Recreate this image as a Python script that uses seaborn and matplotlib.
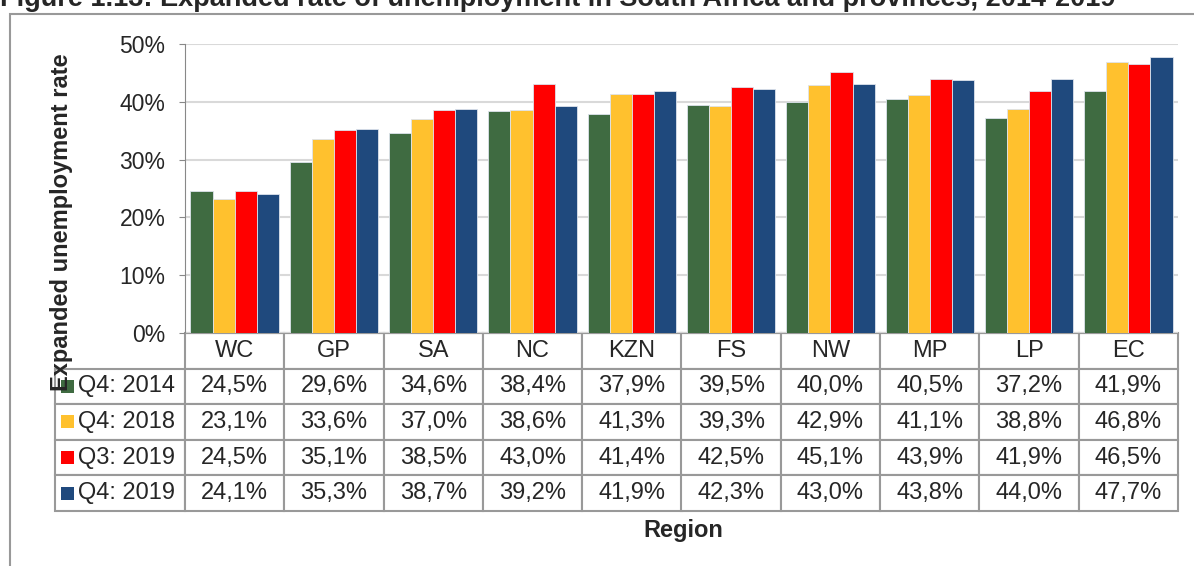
import numpy as np
import pandas as pd
import seaborn as sns
import matplotlib.pyplot as plt
from matplotlib.patches import Rectangle

regions = ['WC', 'GP', 'SA', 'NC', 'KZN', 'FS', 'NW', 'MP', 'LP', 'EC']
periods = ['Q4: 2014', 'Q4: 2018', 'Q3: 2019', 'Q4: 2019']
q4_2014 = [24.5, 29.6, 34.6, 38.4, 37.9, 39.5, 40.0, 40.5, 37.2, 41.9]
q4_2018 = [23.1, 33.6, 37.0, 38.6, 41.3, 39.3, 42.9, 41.1, 38.8, 46.8]
q3_2019 = [24.5, 35.1, 38.5, 43.0, 41.4, 42.5, 45.1, 43.9, 41.9, 46.5]
q4_2019 = [24.1, 35.3, 38.7, 39.2, 41.9, 42.3, 43.0, 43.8, 44.0, 47.7]
colors = ['#3F6B41', '#FFC12E', '#FF0000', '#1F497D']

series = [q4_2014, q4_2018, q3_2019, q4_2019]
df = pd.DataFrame({
    'Region': regions * 4,
    'Period': np.repeat(periods, len(regions)),
    'Rate': np.concatenate(series),
})

sns.set_style('white')
plt.rcParams['font.family'] = ['Liberation Sans', 'DejaVu Sans']

fig = plt.figure(figsize=(11.94, 5.66), dpi=100)
ax = fig.add_axes([185 / 1194, 1 - 333 / 566, 993 / 1194, 289 / 566])

sns.barplot(data=df, x='Region', y='Rate', hue='Period', order=regions,
            hue_order=periods, palette=colors, saturation=1, width=0.89, gap=0,
            edgecolor='#dde3ec', linewidth=0.6, legend=False, ax=ax, zorder=3)

ax.set_ylim(0, 50)
ax.set_xlim(-0.5, len(regions) - 0.5)
ax.set_yticks(range(0, 51, 10))
ax.set_yticklabels([f'{v}%' for v in range(0, 51, 10)], fontsize=16.5)
ax.tick_params(axis='y', left=True, length=4, color='#888888', pad=10)
ax.set_xticks([])
ax.set_xlabel('')
ax.set_ylabel('')
ax.grid(axis='y', color='#d9d9d9', linewidth=1.5, zorder=0)
for s in ['top', 'right']:
    ax.spines[s].set_visible(False)
ax.spines['left'].set_color('#888888')
ax.spines['bottom'].set_color('#999999')

# data table below the chart
cell_text = [['   ' + p] + [f'{v:.1f}%'.replace('.', ',') for v in vals]
             for p, vals in zip(periods, series)]
col_labels = [''] + regions
w0 = 130 / 993
table = ax.table(cellText=cell_text, colLabels=col_labels,
                 colWidths=[w0] + [(1.0) / len(regions)] * len(regions),
                 cellLoc='center', bbox=[-w0, -178 / 289, 1 + w0, 178 / 289])
table.auto_set_font_size(False)
table.set_fontsize(17)
for (r, c), cell in table.get_celld().items():
    cell.set_edgecolor('#999999')
    cell.set_linewidth(1.5)
    if c == 0:
        cell.get_text().set_ha('left')
        cell.PAD = 0.02
    if r == 0 and c == 0:
        cell.visible_edges = ''
        cell.set_facecolor('none')

row_h = 178 / 289 / 5
for i, col in enumerate(colors):
    yc = -row_h * (i + 1.5)
    ax.add_patch(Rectangle((-w0 + 0.006, yc - 0.022), 0.013, 0.045,
                           transform=ax.transAxes, facecolor=col,
                           edgecolor='none', clip_on=False, zorder=5))

fig.text(62 / 1194, 1 - 222 / 566, 'Expanded unemployment rate', rotation=90,
         ha='center', va='center', fontsize=17, fontweight='bold')
fig.text(683 / 1194, 1 - 530 / 566, 'Region', ha='center', va='center',
         fontsize=17, fontweight='bold')
fig.text(0.0, 1 - 6 / 566,
         'Figure 1.13: Expanded rate of unemployment in South Africa and provinces, 2014-2019',
         ha='left', va='baseline', fontsize=19.5, fontweight='bold')

fig.add_artist(Rectangle((10 / 1194, -0.1), 1.2, 1 - 14 / 566 + 0.1,
                         transform=fig.transFigure, fill=False,
                         edgecolor='#999999', linewidth=1.5))

fig.savefig('out.png', dpi=100)
